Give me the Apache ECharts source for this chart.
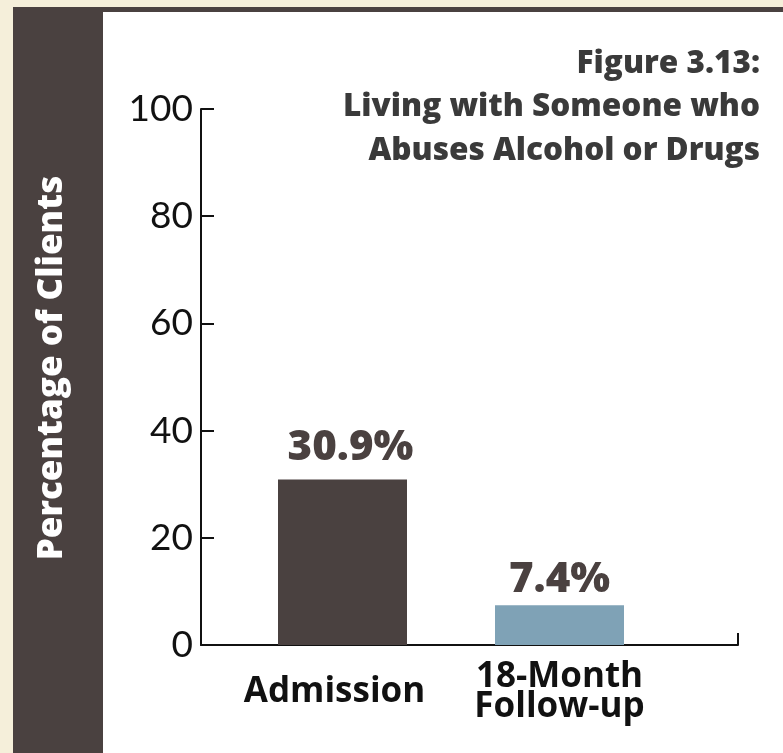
<!DOCTYPE html>
<html>
<head>
<meta charset="utf-8">
<script src="https://cdn.jsdelivr.net/npm/echarts@6/dist/echarts.min.js"></script>
<style>
  html, body { margin: 0; padding: 0; background: #f5efda; }
  #chart { width: 783px; height: 753px; }
</style>
</head>
<body>
<div id="chart"></div>
<script>
// Figure 3.13 values
const categories = ['Admission', '18-Month\nFollow-up'];
const percentages = [30.9, 7.4];
const barColors = ['#4a4140', '#7fa2b6'];
const labelGaps = [10, 4];
const labelShifts = [8, 0];
const yTicks = { min: 0, max: 100, interval: 20 };
const titleLines = ['Figure 3.13:', 'Living with Someone who', 'Abuses Alcohol or Drugs'];
const yTitle = 'Percentage of Clients';

const BOLD_FONT = 'Open Sans';
const chart = echarts.init(document.getElementById('chart'), null, { renderer: 'canvas' });

const barData = percentages.map((v, i) => ({
  value: v,
  itemStyle: { color: barColors[i] },
  label: { distance: labelGaps[i], offset: [labelShifts[i], 0] }
}));

// one right-aligned title block per line
const titleTops = [42, 85, 129];
const titles = titleLines.map((line, i) => ({
  text: line,
  right: 23,
  top: titleTops[i],
  padding: 0,
  textStyle: {
    fontFamily: BOLD_FONT,
    fontWeight: 780,
    fontSize: 31.5,
    lineHeight: 44,
    color: '#3a3a3a'
  }
}));

const catFont = {
  fontFamily: BOLD_FONT,
  fontWeight: 700,
  fontSize: 35,
  lineHeight: 30,
  color: '#111111'
};

chart.setOption({
  backgroundColor: '#f5efda',
  animation: false,
  graphic: [
    // dark frame and side band
    { type: 'rect', z: -10, shape: { x: 13, y: 7, width: 770, height: 746 }, style: { fill: '#4a4140' } },
    // white plotting panel
    { type: 'rect', z: -9, shape: { x: 103, y: 12, width: 680, height: 741 }, style: { fill: '#ffffff' } }
  ],
  title: titles,
  grid: [
    { left: 234, right: 115, top: 109, bottom: 108 },
    { left: 201, right: 45, top: 109, bottom: 108 }
  ],
  xAxis: [
    {
      type: 'category',
      gridIndex: 0,
      data: categories,
      axisLine: { show: false },
      axisTick: { show: false },
      axisLabel: Object.assign({
        interval: 0,
        margin: 47,
        verticalAlign: 'middle',
        formatter: (value, index) => index === 0 ? '{lead|' + value + '}' : value,
        rich: {
          lead: Object.assign({ padding: [0, 16, 0, 0] }, catFont)
        }
      }, catFont)
    },
    {
      type: 'value',
      gridIndex: 1,
      min: 0,
      max: 1,
      interval: 1,
      axisLine: { show: true, lineStyle: { color: '#111111', width: 2 } },
      axisTick: { show: true, inside: true, length: 12, lineStyle: { color: '#111111', width: 2 } },
      axisLabel: { show: false },
      splitLine: { show: false }
    }
  ],
  yAxis: [
    {
      type: 'value',
      gridIndex: 0,
      min: yTicks.min,
      max: yTicks.max,
      interval: yTicks.interval,
      show: false
    },
    {
      type: 'value',
      gridIndex: 1,
      min: yTicks.min,
      max: yTicks.max,
      interval: yTicks.interval,
      name: yTitle,
      nameLocation: 'middle',
      nameRotate: 90,
      nameGap: 131,
      nameTextStyle: {
        fontFamily: BOLD_FONT,
        fontWeight: 800,
        fontSize: 35,
        color: '#ffffff',
        padding: [0, 0, 0, 18]
      },
      axisLine: { show: true, lineStyle: { color: '#111111', width: 2 } },
      axisTick: { show: true, inside: true, length: 13, lineStyle: { color: '#111111', width: 2 } },
      axisLabel: {
        margin: 8,
        fontFamily: 'Lato',
        fontSize: 37,
        color: '#111111'
      },
      splitLine: { show: false }
    }
  ],
  series: [
    {
      type: 'bar',
      xAxisIndex: 0,
      yAxisIndex: 0,
      barWidth: 129,
      data: barData,
      label: {
        show: true,
        position: 'top',
        formatter: '{c}%',
        fontFamily: BOLD_FONT,
        fontWeight: 800,
        fontSize: 42,
        color: '#4a4140'
      }
    }
  ]
});
</script>
</body>
</html>
